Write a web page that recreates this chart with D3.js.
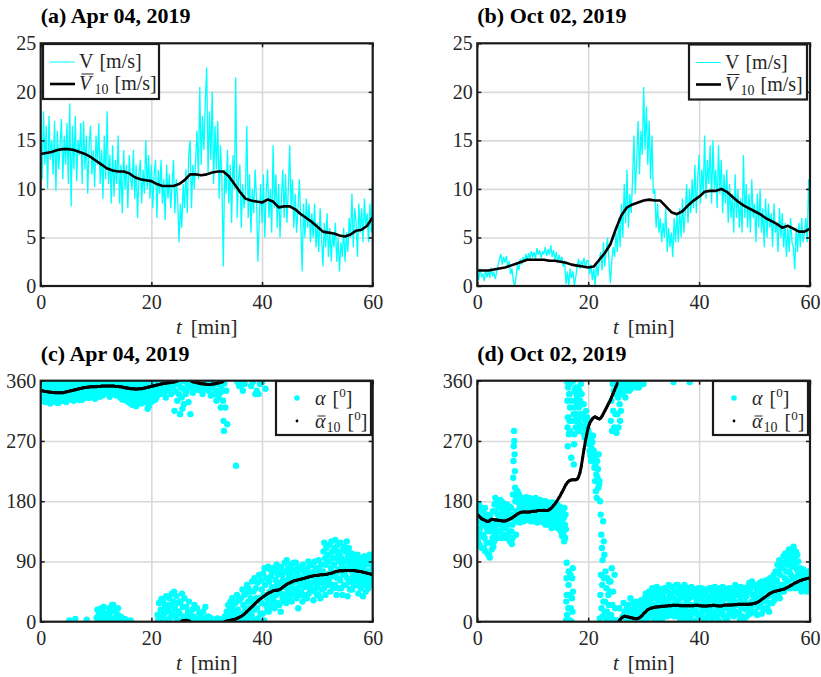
<!DOCTYPE html>
<html>
<head>
<meta charset="utf-8">
<script src="https://cdn.jsdelivr.net/npm/d3@7"></script>
<style>
body { margin: 0; background: #fff; }
svg text { font-family: "Liberation Serif", "Times New Roman", serif; fill: #262626; }
</style>
</head>
<body>
<div id="chart"></div>
<script>
"use strict";
//axis ticks
var timeTicks = [0, 20, 40, 60];
var speedTicks = [0, 5, 10, 15, 20, 25];
var dirTicks = [0, 90, 180, 270, 360];
var titles = ["(a) Apr 04, 2019", "(b) Oct 02, 2019", "(c) Apr 04, 2019", "(d) Oct 02, 2019"];

//raw wind speed [m/s], one reading every 0.25 min
var speedApr = [
  15.5, 11.0, 18.0, 12.5, 16.5, 10.0, 17.5, 13.0, 15.0, 11.5, 17.0, 9.8, 16.0, 12.0, 14.5, 17.2,
  11.0, 15.5, 12.5, 16.8, 10.5, 18.8, 8.2, 16.5, 12.0, 17.5, 10.8, 15.0, 13.5, 16.8, 10.5, 17.0,
  12.0, 15.5, 9.5, 14.5, 16.5, 11.5, 14.0, 10.2, 15.5, 12.5, 16.8, 10.5, 14.0, 9.0, 15.5, 11.0,
  18.0, 10.5, 13.5, 8.5, 14.5, 9.2, 13.0, 10.5, 15.5, 8.5, 12.5, 7.5, 14.0, 10.0, 12.5, 8.0,
  13.5, 11.0, 10.0, 14.0, 9.0, 12.5, 7.0, 11.5, 13.0, 8.5, 12.0, 9.5, 15.0, 10.0, 13.5, 9.0,
  12.5, 8.0, 11.5, 13.0, 7.0, 12.0, 9.5, 13.0, 8.5, 11.0, 6.8, 12.5, 9.0, 11.5, 8.0, 10.5,
  13.0, 7.5, 11.0, 9.0, 4.5, 8.5, 6.0, 10.5, 8.0, 12.0, 7.5, 13.5, 15.0, 8.0, 12.5, 10.0,
  13.0, 16.0, 11.0, 20.5, 12.5, 17.5, 14.0, 19.0, 22.5, 11.5, 18.0, 13.0, 20.0, 10.5, 16.5, 12.0,
  17.0, 9.0, 14.5, 11.0, 2.0, 12.0, 9.5, 14.0, 8.5, 12.5, 6.5, 13.5, 10.0, 21.5, 7.0, 11.0,
  12.5, 6.0, 10.5, 8.0, 9.5, 16.5, 7.0, 11.5, 5.5, 10.0, 7.5, 12.0, 9.0, 2.5, 7.0, 10.5,
  6.5, 11.5, 5.0, 9.5, 12.0, 7.0, 10.0, 5.5, 14.5, 8.0, 11.5, 6.0, 10.5, 5.0, 9.0, 12.0,
  7.0, 11.5, 6.5, 10.0, 14.5, 8.0, 11.0, 6.0, 9.5, 5.5, 8.0, 11.0, 6.5, 1.5, 8.5, 5.0,
  9.0, 6.0, 8.5, 4.5, 7.5, 5.0, 8.5, 4.0, 6.5, 3.5, 8.0, 5.0, 2.0, 6.5, 4.0, 7.5,
  3.0, 6.0, 2.5, 5.5, 4.0, 6.5, 2.5, 5.0, 1.5, 4.5, 3.0, 6.0, 2.5, 5.5, 3.5, 7.0,
  5.0, 9.5, 4.0, 8.0, 6.5, 3.0, 8.5, 5.5, 8.0, 4.5, 9.0, 6.0, 7.5, 4.5, 8.5, 5.5,
  11.5
];
var speedOct = [
  1.5, 0.6, 1.8, 1.0, 1.2, 0.5, 1.7, 0.9, 1.6, 0.8, 1.9, 1.1, 1.4, 0.7, 1.5, 2.2,
  2.8, 3.3, 2.2, 3.0, 2.4, 3.1, 1.9, 2.6, 1.2, 1.8, 0.5, 0.0, 1.0, 2.2, 1.6, 2.8,
  2.2, 3.0, 2.5, 3.3, 2.6, 3.4, 2.8, 3.6, 3.0, 3.5, 2.8, 3.9, 3.2, 3.7, 2.9, 3.5,
  3.3, 4.0, 3.1, 3.8, 3.2, 4.2, 3.0, 3.7, 2.7, 3.5, 2.4, 3.2, 2.5, 3.0, 2.0, 2.6,
  0.2, 1.5, 0.0, 1.8, 0.8, 1.5, 0.0, 0.9, 2.0, 2.8, 1.8, 2.5, 2.2, 2.9, 1.9, 2.6,
  2.6, 1.2, 2.2, 0.6, 1.8, 0.0, 2.5, 1.0, 2.5, 3.5, 1.6, 4.5, 2.0, 3.8, 5.0, 2.5,
  0.3, 2.5, 4.0, 3.0, 5.5, 3.5, 7.0, 4.0, 8.5, 5.0, 10.5, 6.5, 12.0, 6.0, 9.5, 7.5,
  11.0, 15.5, 9.5, 13.0, 17.0, 11.5, 16.0, 13.5, 20.5, 14.0, 18.5, 12.5, 17.0, 11.0, 15.5, 9.5,
  10.0, 6.0, 8.5, 5.5, 7.0, 4.5, 6.5, 5.0, 8.0, 3.5, 6.0, 4.0, 5.5, 3.0, 7.0, 4.5,
  7.5, 4.5, 8.0, 5.0, 9.0, 5.5, 7.5, 10.5, 6.5, 10.0, 7.5, 11.0, 8.0, 12.5, 7.5, 11.0,
  13.5, 8.5, 12.0, 9.5, 15.5, 9.0, 13.0, 10.5, 14.5, 8.5, 15.0, 10.0, 12.0, 8.0, 14.5, 9.5,
  13.0, 7.5, 11.5, 8.5, 12.0, 6.5, 10.5, 7.0, 9.5, 5.5, 11.5, 7.0, 10.0, 6.0, 9.0, 5.5,
  13.5, 7.0, 10.5, 6.0, 9.5, 5.5, 11.0, 7.0, 8.5, 4.5, 9.5, 6.0, 10.0, 5.5, 8.0, 4.0,
  9.0, 5.0, 8.5, 6.0, 7.5, 4.0, 8.5, 5.5, 6.5, 3.5, 8.0, 5.0, 7.5, 4.0, 6.5, 3.0,
  6.0, 3.5, 7.0, 4.5, 4.0, 1.7, 6.0, 3.5, 6.5, 4.0, 7.0, 4.5, 5.5, 7.0, 4.5, 11.0,
  6.5
];

//10-min moving mean of speed, one value per minute
var speedAprMean = [13.6, 13.7, 13.8, 14.0, 14.1, 14.1, 14.0, 13.8, 13.6, 13.3, 12.9, 12.5, 12.1, 11.9, 11.8, 11.8,
  11.6, 11.2, 11.0, 10.9, 10.8, 10.5, 10.3, 10.3, 10.3, 10.5, 10.9, 11.5, 11.5, 11.4, 11.5, 11.7,
  11.8, 11.8, 11.3, 10.5, 9.7, 9.0, 8.8, 8.7, 8.6, 8.9, 8.7, 8.1, 8.2, 8.2, 7.9, 7.4,
  7.0, 6.6, 6.1, 5.6, 5.5, 5.4, 5.2, 5.1, 5.3, 5.7, 5.8, 6.2, 7.1];
var speedOctMean = [1.6, 1.6, 1.6, 1.7, 1.8, 1.9, 2.1, 2.3, 2.5, 2.7, 2.7, 2.7, 2.7, 2.6, 2.6, 2.5,
  2.4, 2.2, 2.1, 2.0, 1.9, 2.0, 2.7, 3.4, 4.3, 5.9, 7.3, 8.1, 8.4, 8.6, 8.8, 8.9,
  8.8, 8.8, 8.2, 7.6, 7.4, 7.7, 8.3, 8.8, 9.2, 9.7, 9.8, 9.8, 10.0, 9.7, 9.2, 8.7,
  8.3, 8.0, 7.7, 7.4, 7.0, 6.7, 6.4, 6.0, 6.2, 5.9, 5.6, 5.6, 5.9];

//raw wind direction [deg], readings grouped by minute
var dirApr = [
  [352, 335, 358, 330, 347, 340, 356, 333, 349, 338, 355, 328, 344, 351],
  [345, 328, 355, 338, 350, 332, 357, 342, 336, 353, 326, 347, 340, 358],
  [336, 350, 329, 346, 338, 355, 331, 343, 352, 334, 357, 341, 348, 327],
  [348, 333, 352, 327, 345, 336, 356, 340, 330, 354, 343, 338, 358, 335],
  [330, 350, 338, 357, 334, 348, 342, 353, 328, 345, 355, 337, 351, 332],
  [355, 337, 2, 349, 332, 358, 341, 346, 335, 353, 339, 357, 344, 330],
  [338, 356, 344, 4, 333, 352, 340, 359, 347, 336, 354, 342, 350, 331],
  [350, 336, 358, 342, 354, 331, 347, 357, 339, 352, 344, 334, 356, 341],
  [343, 359, 337, 352, 3, 345, 356, 339, 349, 334, 354, 341, 358, 346],
  [357, 341, 353, 336, 359, 348, 344, 355, 338, 351, 346, 333, 356, 342],
  [340, 6, 358, 18, 345, 2, 352, 12, 349, 336, 8, 355, 343, 20],
  [359, 15, 338, 4, 350, 22, 355, 8, 344, 357, 12, 341, 353, 2],
  [344, 10, 357, 1, 348, 20, 336, 14, 352, 6, 341, 355, 25, 346],
  [353, 25, 341, 5, 359, 16, 346, 3, 350, 338, 12, 356, 343, 20],
  [338, 9, 355, 2, 347, 335, 358, 7, 344, 351, 332, 356, 4, 340],
  [350, 4, 332, 358, 3, 343, 354, 330, 346, 338, 356, 341, 352, 335],
  [327, 352, 340, 2, 358, 335, 346, 324, 355, 331, 349, 338, 357, 343],
  [348, 331, 357, 322, 353, 338, 344, 359, 328, 350, 335, 356, 341, 346],
  [336, 356, 326, 349, 340, 358, 330, 345, 353, 334, 357, 328, 347, 341],
  [352, 329, 343, 357, 318, 347, 338, 322, 355, 333, 349, 327, 358, 340],
  [344, 359, 335, 351, 330, 356, 341, 348, 338, 354, 332, 357, 346, 336],
  [357, 10, 345, 2, 359, 28, 352, 5, 340, 18, 355, 34, 348, 8],
  [348, 30, 358, 12, 342, 22, 355, 3, 335, 38, 350, 15, 345, 25],
  [359, 18, 346, 35, 353, 6, 357, 25, 340, 42, 350, 12, 355, 30],
  [352, 45, 315, 20, 358, 8, 344, 38, 2, 330, 28, 355, 15, 340],
  [357, 12, 310, 30, 350, 2, 335, 42, 318, 22, 348, 8, 325, 35],
  [359, 6, 340, 22, 345, 3, 352, 15, 328, 30, 355, 10],
  [310, 350, 2, 358, 18, 342, 8, 355, 25, 348, 4],
  [4, 352, 20, 358, 1, 346, 12, 357, 8, 350],
  [355, 5, 340, 15, 359, 2, 348, 22, 6, 352],
  [2, 356, 8, 345, 1, 358, 6, 338, 350, 3],
  [352, 3, 357, 340, 2, 359, 345, 330, 355, 5],
  [355, 335, 4, 358, 342, 320, 350, 2, 345, 330],
  [300, 285, 356, 8, 320, 3, 345, 15, 295, 5, 25, 10],
  [5, 22, 2, 30, 10, 1, 18, 35, 8, 25, 3, 15],
  [12, 2, 28, 233, 6, 40, 358, 18, 4, 32, 352, 10],
  [352, 3, 35, 357, 12, 48, 345, 25, 5, 40, 355, 18],
  [5, 42, 15, 55, 2, 30, 50, 20, 8, 45, 12, 35],
  [352, 10, 60, 28, 358, 45, 3, 65, 18, 340, 50, 35],
  [345, 20, 58, 5, 340, 70, 35, 355, 12, 62, 28, 48],
  [358, 12, 72, 40, 2, 80, 55, 348, 25, 65, 35, 18],
  [30, 82, 15, 60, 45, 78, 22, 68, 38, 52, 75, 28],
  [35, 80, 50, 20, 75, 62, 40, 85, 55, 28, 70, 45],
  [48, 25, 78, 58, 15, 82, 42, 70, 35, 62, 52, 30],
  [55, 88, 38, 75, 28, 92, 62, 45, 80, 50, 68, 35],
  [72, 40, 85, 55, 30, 78, 65, 48, 88, 60, 42, 75],
  [60, 88, 35, 72, 50, 82, 20, 68, 45, 78, 55, 40],
  [45, 78, 58, 30, 85, 65, 40, 75, 52, 70, 35, 62],
  [62, 35, 80, 55, 90, 42, 72, 50, 85, 45, 68, 58],
  [70, 48, 85, 32, 75, 58, 90, 45, 65, 80, 52, 40],
  [55, 80, 40, 92, 62, 75, 35, 68, 85, 48, 72, 58],
  [75, 105, 50, 118, 60, 95, 40, 85, 110, 65, 90, 55, 100, 70],
  [90, 60, 115, 72, 45, 100, 80, 120, 55, 105, 68, 95, 50, 85],
  [85, 110, 55, 122, 70, 95, 40, 105, 65, 115, 78, 100, 50, 90],
  [100, 62, 118, 75, 50, 95, 85, 40, 108, 70, 90, 55, 112, 80],
  [70, 105, 55, 90, 120, 65, 38, 98, 80, 110, 60, 92, 48, 85],
  [95, 60, 102, 75, 48, 88, 68, 100, 55, 92, 80, 62, 98, 72],
  [72, 90, 55, 100, 65, 42, 85, 78, 95, 60, 88, 50, 80, 68],
  [95, 60, 80, 38, 92, 70, 55, 98, 65, 85, 45, 75, 90, 58],
  [65, 88, 50, 95, 75, 60, 100, 70, 55, 85, 68, 92, 58, 80]
];
var dirOct = [
  [172, 120, 160, 135, 175, 115, 150, 140, 165, 128, 155, 110, 145, 170],
  [130, 165, 110, 150, 125, 170, 105, 145, 160, 118, 140, 155, 135, 100],
  [155, 100, 140, 96, 160, 118, 135, 150, 108, 145, 125, 165, 112, 138],
  [120, 175, 140, 185, 130, 165, 150, 180, 125, 160, 145, 172, 135, 155],
  [160, 135, 182, 150, 125, 170, 145, 178, 140, 165, 130, 175, 155, 148],
  [140, 170, 125, 160, 150, 175, 130, 165, 145, 155, 135, 172, 120, 158],
  [155, 120, 170, 135, 116, 160, 145, 125, 190, 215, 240, 262, 285, 270, 250, 225, 200, 180, 150, 130],
  [165, 185, 150, 195, 160, 178, 155, 190, 170, 148, 182, 162, 175, 158],
  [170, 155, 185, 160, 178, 150, 182, 165, 175, 158, 168, 186, 152, 172],
  [160, 180, 152, 175, 165, 185, 158, 172, 168, 150, 178, 162, 183, 155],
  [175, 155, 182, 165, 150, 178, 160, 185, 170, 158, 180, 148, 172, 163],
  [160, 178, 150, 170, 182, 155, 175, 165, 152, 180, 162, 172, 148, 168],
  [150, 172, 160, 180, 145, 168, 155, 175, 162, 148, 178, 158, 170, 152],
  [165, 145, 175, 150, 170, 140, 160, 178, 155, 168, 142, 172, 148, 162],
  [148, 170, 142, 165, 155, 175, 140, 160, 152, 168, 145, 172, 138, 158],
  [165, 135, 170, 150, 128, 160, 140, 168, 130, 155, 120, 170, 145, 125, 160, 138],
  [2, 30, 65, 88, 40, 10, 358, 330, 290, 262, 305, 350, 20, 55, 75, 280, 340, 355, 300, 340, 285, 320, 2, 40, 70, 20, 358, 300, 245, 330],
  [0, 35, 65, 15, 80, 45, 360, 310, 235, 265, 280, 345, 320, 300, 350, 290, 330, 310, 340, 305, 325],
  [335, 300, 350, 285, 320, 345, 295, 330, 310, 355, 290, 340, 305, 325],
  [310, 290, 325, 280, 305, 275, 300, 285, 315, 295, 270, 305, 288, 298],
  [285, 265, 280, 255, 272, 248, 265, 240, 275, 258, 268, 245, 278, 252],
  [255, 230, 245, 210, 235, 195, 220, 185, 240, 215, 228, 200, 250, 205],
  [210, 5, 180, 40, 160, 70, 130, 20, 110, 55, 92, 8, 150, 30, 120, 65, 100, 15],
  [30, 75, 5, 50, 15, 65, 2, 40, 25, 60, 10, 45],
  [60, 300, 10, 330, 80, 285, 25, 355, 45, 315, 3, 345, 290, 70, 340, 20, 310, 360],
  [340, 282, 358, 310, 2, 335, 290, 350, 20, 325, 300, 345, 315, 355],
  [355, 340, 8, 350, 28, 360, 15, 345, 335, 5, 352, 20],
  [352, 3, 358, 25, 345, 12, 355, 35, 348, 8, 360, 18],
  [10, 355, 28, 5, 358, 20, 2, 30, 15, 350, 8, 25],
  [15, 350, 3, 25, 358, 8, 32, 12, 20, 5, 28, 355],
  [20, 5, 35, 15, 42, 8, 28, 3, 38, 12, 25, 45],
  [30, 12, 45, 22, 8, 38, 50, 18, 35, 5, 42, 25],
  [25, 45, 10, 35, 52, 15, 40, 5, 30, 48, 20, 38],
  [38, 12, 48, 25, 5, 42, 20, 35, 50, 15, 30, 8],
  [15, 50, 28, 8, 45, 32, 55, 20, 38, 12, 42, 25],
  [40, 10, 52, 25, 358, 35, 8, 45, 18, 30, 55, 22],
  [30, 55, 12, 42, 20, 48, 5, 35, 25, 50, 15, 38],
  [18, 45, 8, 38, 55, 22, 3, 40, 30, 12, 48, 25],
  [50, 15, 35, 358, 5, 42, 25, 52, 12, 38, 20, 45],
  [12, 38, 48, 20, 2, 44, 30, 15, 40, 25, 50, 8],
  [35, 8, 42, 25, 50, 12, 38, 20, 45, 5, 30, 48],
  [45, 18, 30, 5, 40, 28, 48, 10, 35, 22, 50, 15],
  [22, 50, 12, 38, 4, 45, 30, 15, 42, 25, 52, 8],
  [40, 8, 32, 48, 18, 42, 2, 35, 25, 50, 12, 38],
  [15, 45, 28, 52, 10, 38, 22, 48, 5, 35, 42, 20],
  [35, 5, 42, 20, 50, 12, 40, 28, 48, 15, 32, 45],
  [50, 22, 38, 8, 45, 30, 55, 15, 40, 25, 52, 12],
  [25, 48, 12, 40, 3, 35, 52, 20, 45, 8, 30, 42],
  [42, 2, 30, 358, 50, 18, 38, 8, 45, 25, 52, 12],
  [58, 20, 45, 12, 52, 30, 60, 25, 40, 15, 55, 35],
  [40, 15, 55, 28, 48, 10, 35, 50, 22, 45, 30, 58],
  [25, 52, 38, 12, 60, 30, 45, 18, 55, 35, 48, 20],
  [55, 30, 62, 20, 48, 38, 58, 15, 42, 65, 28, 50],
  [45, 65, 28, 55, 40, 70, 32, 60, 50, 75, 38, 62],
  [60, 85, 40, 75, 50, 92, 35, 70, 80, 55, 88, 45],
  [80, 55, 98, 45, 88, 65, 102, 50, 75, 92, 60, 85],
  [95, 60, 108, 75, 50, 100, 70, 90, 82, 105, 65, 88],
  [112, 65, 95, 50, 85, 105, 58, 78, 100, 70, 90, 60],
  [70, 50, 80, 60, 75, 45, 72, 55, 65, 78, 52, 68],
  [65, 48, 72, 55, 68, 45, 70, 52, 60, 75, 50, 62]
];

//10-min mean direction, one value every 0.25 min (wrapped to 0..360)
var dirAprMean = [
  345, 345, 344.5, 344, 344, 343.5, 343, 343, 342.5, 342.5, 342, 342, 342, 342, 342, 342,
  342, 342.5, 343, 343.5, 344, 344.5, 345, 345.5, 346, 346.5, 347, 347.5, 348, 348.5, 349, 349.5,
  350, 350, 350.5, 350.5, 351, 351, 351, 351, 351, 351.5, 351.5, 351.5, 352, 352, 352, 352,
  352, 352, 352, 352, 352, 352, 351.5, 351.5, 351.5, 351, 351, 350.5, 350, 349.5, 349, 349,
  348.5, 348, 348, 348, 347.5, 347.5, 347.5, 348, 348, 348, 348.5, 349, 349.5, 350, 350.5, 351,
  351.5, 352, 352.5, 353, 353.5, 354, 354.5, 355, 355.5, 356, 356, 356.5, 357, 357, 357.5, 358,
  358, 358.5, 359, 359.5, 0.5, 359.8, 1, 1.5, 1.8, 2, 1.5, 1, 0.3, 359, 358.5, 358,
  357.5, 357, 356.5, 356, 355.5, 355.5, 355, 355, 354.5, 354.5, 354.5, 354.5, 355, 355, 355.5, 356,
  356.5, 357, 357.5, 358, 359, 0.3, 0.5, 1, 1.5, 2, 2.5, 3, 3.5, 4, 5, 6,
  7, 8, 9.5, 11, 13, 15, 17, 19, 21, 23, 25, 27, 29, 31, 33, 34.5,
  36, 37.5, 39, 40.5, 42, 43, 44, 45, 46, 46.5, 47, 47, 47.5, 48.5, 50, 51.5,
  53, 54.5, 56, 57, 58, 59, 60, 61, 61.5, 62, 62.5, 63, 63.5, 64, 64.5, 65,
  66, 66.5, 67, 67.5, 68, 68.5, 69, 69, 69.5, 69.5, 70, 70, 70, 70.5, 70.5, 71,
  71.5, 72, 72.5, 73, 74, 74.5, 75, 75.5, 76, 76, 76, 76, 76.5, 76.5, 76.5, 76.5,
  76.5, 76.5, 76.5, 76, 76, 75.5, 75.5, 75, 74.5, 74, 73.5, 73, 72.5, 72, 71.5, 71,
  71
];
var dirOctMean = [
  160, 158, 156, 154, 153, 152, 151, 150, 150, 151, 153, 153, 152.5, 152, 152, 151.5,
  151, 151, 150.5, 150.5, 150.5, 151, 152, 153, 154, 155, 156.5, 158, 159.5, 161, 162, 163,
  163.5, 164, 164, 164, 164, 164, 164, 164.5, 165, 165, 165, 165.5, 166, 166, 166, 166,
  166.5, 166, 166, 166.5, 167.5, 169, 171, 173.5, 176, 179, 182, 185.5, 189, 193, 197, 201,
  205, 208, 210, 211, 212, 212, 212, 212, 213, 216, 222, 232, 245, 258, 270, 280,
  290, 296, 300, 303, 305, 306, 305, 303.5, 303, 304, 307, 311, 315, 319, 323, 327,
  331, 336, 341, 346, 351, 356, 0.5, 3, 5.5, 7, 8, 8, 7.5, 7, 6.5, 6,
  5.5, 5, 4.5, 4.5, 5, 6, 7.5, 9.5, 12, 14, 16, 18, 19, 20, 20.5, 21,
  21.5, 22, 22, 22.5, 22.5, 23, 23, 23, 23.5, 23.5, 24, 24, 24, 24.5, 24.5, 24.5,
  24.5, 24.5, 24, 24, 24, 24, 24, 24, 24, 24, 24, 24, 24, 24.5, 24.5, 24.5,
  24, 24, 23.5, 23.5, 23.5, 23.5, 23.5, 24, 24, 24, 24.5, 24.5, 24, 24, 23.5, 23.5,
  23.5, 24, 24.5, 25, 25, 25, 25, 25, 25, 25.5, 25.5, 25.5, 26, 26, 26, 26,
  26, 26, 26, 26, 26, 26.5, 26.5, 27, 27.5, 28, 29, 30, 31.5, 33, 34.5, 36,
  37.5, 39, 40.5, 42, 43, 44, 45, 45.5, 46, 46.5, 47, 47.5, 48, 48.5, 49.5, 50.5,
  51.5, 52.5, 54, 55, 56.5, 57.5, 58.5, 59.5, 60.5, 61.5, 62, 63, 63.5, 64, 64.5, 65,
  65.5
];

var cyan = "#00ffff";
var w = 821,
  h = 677;

var svg = d3
  .select("#chart")
  .append("svg")
  .attr("width", w)
  .attr("height", h);

//plot boxes of the four panels
var boxes = [
  { x0: 40.7, x1: 372.7, y0: 286, y1: 43.3 },
  { x0: 477.3, x1: 810, y0: 286, y1: 43.3 },
  { x0: 40.7, x1: 372.7, y0: 621.7, y1: 380.7 },
  { x0: 477.3, x1: 810, y0: 621.7, y1: 380.7 }
];

//draws grid, ticks, labels and returns scales + data layer
function makePanel(i, yMax, yTicks) {
  var b = boxes[i];
  var x = d3.scaleLinear().domain([0, 60]).range([b.x0, b.x1]);
  var y = d3.scaleLinear().domain([0, yMax]).range([b.y0, b.y1]);
  var g = svg.append("g");

  //grid
  g.append("g")
    .attr("transform", "translate(0," + b.y0 + ")")
    .call(d3.axisBottom(x).tickValues(timeTicks.slice(1, -1)).tickSize(-(b.y0 - b.y1)).tickFormat(""));
  g.append("g")
    .attr("transform", "translate(" + b.x0 + ",0)")
    .call(d3.axisLeft(y).tickValues(yTicks.slice(1, -1)).tickSize(-(b.x1 - b.x0)).tickFormat(""));
  g.selectAll(".domain").remove();
  g.selectAll(".tick line").attr("stroke", "#d9d9d9").attr("stroke-width", 1.6);

  var clipId = "clip" + i;
  svg.append("clipPath")
    .attr("id", clipId)
    .append("rect")
    .attr("x", b.x0)
    .attr("y", b.y1)
    .attr("width", b.x1 - b.x0)
    .attr("height", b.y0 - b.y1);
  var data = svg.append("g").attr("clip-path", "url(#" + clipId + ")");

  var axes = svg.append("g");
  axes.append("g")
    .attr("transform", "translate(0," + b.y0 + ")")
    .call(d3.axisBottom(x).tickValues(timeTicks).tickSize(-4).tickPadding(9));
  axes.append("g")
    .attr("transform", "translate(0," + b.y1 + ")")
    .call(d3.axisTop(x).tickValues(timeTicks).tickSize(-4).tickFormat(""));
  axes.append("g")
    .attr("transform", "translate(" + b.x0 + ",0)")
    .call(d3.axisLeft(y).tickValues(yTicks).tickSize(-4).tickPadding(4.5));
  axes.append("g")
    .attr("transform", "translate(" + b.x1 + ",0)")
    .call(d3.axisRight(y).tickValues(yTicks).tickSize(-4).tickFormat(""));
  axes.selectAll(".domain").remove();
  axes.selectAll(".tick line").attr("stroke", "#1a1a1a").attr("stroke-width", 1.5);
  axes.selectAll("g").attr("font-family", null).attr("font-size", null);
  axes.selectAll(".tick text").attr("font-size", 20).attr("fill", "#262626");

  //frame
  axes.append("rect")
    .attr("x", b.x0)
    .attr("y", b.y1)
    .attr("width", b.x1 - b.x0)
    .attr("height", b.y0 - b.y1)
    .attr("fill", "none")
    .attr("stroke", "#1a1a1a")
    .attr("stroke-width", 2.2);

  //title
  svg.append("text")
    .attr("x", b.x0)
    .attr("y", b.y1 - 20)
    .attr("font-size", 22)
    .attr("font-weight", "bold")
    .style("fill", "#000")
    .text(titles[i]);

  //x label
  var xl = svg.append("text")
    .attr("x", (b.x0 + b.x1) / 2)
    .attr("y", b.y0 + 48)
    .attr("text-anchor", "middle")
    .attr("font-size", 21);
  xl.append("tspan").attr("font-style", "italic").text("t");
  xl.append("tspan").attr("dx", 9).text("[min]");

  return { x: x, y: y, data: data, legend: svg.append("g"), box: b };
}

//letter with a bar on top followed by subscript and unit
function barText(g, x0, yb, letter, barH, sub, unit, supUnit) {
  var base = g.append("text")
    .attr("x", x0)
    .attr("y", yb)
    .attr("font-size", 20)
    .attr("font-style", "italic")
    .text(letter);
  var bb = base.node().getBBox();
  g.append("line")
    .attr("x1", bb.x + 2.5)
    .attr("x2", bb.x + bb.width - 0.5)
    .attr("y1", yb - barH)
    .attr("y2", yb - barH)
    .attr("stroke", "#262626")
    .attr("stroke-width", 1);
  var t = g.append("text")
    .attr("x", bb.x + bb.width + 0.5)
    .attr("y", yb)
    .attr("font-size", 20);
  t.append("tspan").attr("font-size", 14).attr("dy", 4).text(sub);
  unitSpans(t, unit, supUnit, -4);
}

function unitSpans(t, unit, supUnit, dy0) {
  if (supUnit) {
    t.append("tspan").attr("dx", 7).attr("dy", dy0).text("[");
    t.append("tspan").attr("font-size", 13).attr("dy", -8).text("0");
    t.append("tspan").attr("dy", 8).text("]");
  } else {
    t.append("tspan").attr("dx", 6).attr("dy", dy0).text(unit);
  }
}

function legendBox(g, x, y, bw, bh) {
  g.append("rect")
    .attr("x", x)
    .attr("y", y)
    .attr("width", bw)
    .attr("height", bh)
    .attr("fill", "#fff")
    .attr("stroke", "#1a1a1a")
    .attr("stroke-width", 2.2);
}

//speed panels
function speedPanel(i, raw, mean, lx, ly, lw) {
  var p = makePanel(i, 25, speedTicks);
  var rawLine = d3.line()
    .x(function(d, k) { return p.x(k * 0.25); })
    .y(function(d) { return p.y(d); });
  var meanLine = d3.line()
    .x(function(d, k) { return p.x(k); })
    .y(function(d) { return p.y(d); });
  p.data.append("path")
    .attr("d", rawLine(raw))
    .attr("fill", "none")
    .attr("stroke", cyan)
    .attr("stroke-width", 1.3);
  p.data.append("path")
    .attr("d", meanLine(mean))
    .attr("fill", "none")
    .attr("stroke", "#000")
    .attr("stroke-width", 2.6)
    .attr("stroke-linejoin", "round");

  var g = p.legend;
  legendBox(g, lx, ly, lw, 55);
  g.append("line").attr("x1", lx + 7).attr("x2", lx + 32).attr("y1", ly + 18).attr("y2", ly + 18)
    .attr("stroke", cyan).attr("stroke-width", 1);
  g.append("line").attr("x1", lx + 7).attr("x2", lx + 32).attr("y1", ly + 40).attr("y2", ly + 40)
    .attr("stroke", "#000").attr("stroke-width", 2.6);
  var t1 = g.append("text").attr("x", lx + 36).attr("y", ly + 24).attr("font-size", 20);
  t1.append("tspan").text("V");
  unitSpans(t1, "[m/s]", false, 0);
  barText(g, lx + 36, ly + 46, "V", 16, "10", "[m/s]", false);
}

//direction panels
function dirPanel(i, bins, mean, lx, ly) {
  var p = makePanel(i, 360, dirTicks);
  var pts = bins.flatMap(function(bin, m) {
    return bin.map(function(v, j) {
      return { t: m + (j + 0.5) / bin.length, v: v };
    });
  });
  p.data.selectAll(".raw")
    .data(pts)
    .join("circle")
    .attr("class", "raw")
    .attr("cx", function(d) { return p.x(d.t); })
    .attr("cy", function(d) { return p.y(d.v); })
    .attr("r", 3.2)
    .attr("fill", cyan);

  //mean as chained dots, broken where it wraps through 0/360
  var steps = d3.pairs(mean.map(function(v, k) { return [k * 0.25, v]; }))
    .filter(function(s) { return Math.abs(s[0][1] - s[1][1]) < 90; });
  p.data.selectAll(".avg")
    .data(steps)
    .join("line")
    .attr("class", "avg")
    .attr("x1", function(s) { return p.x(s[0][0]); })
    .attr("y1", function(s) { return p.y(s[0][1]); })
    .attr("x2", function(s) { return p.x(s[1][0]); })
    .attr("y2", function(s) { return p.y(s[1][1]); })
    .attr("stroke", "#000")
    .attr("stroke-width", 3)
    .attr("stroke-linecap", "round");

  var g = p.legend;
  legendBox(g, lx, ly, 95, 54);
  g.append("circle").attr("cx", lx + 21).attr("cy", ly + 17).attr("r", 2.8).attr("fill", cyan);
  g.append("circle").attr("cx", lx + 21).attr("cy", ly + 40).attr("r", 1.4).attr("fill", "#000");
  var t1 = g.append("text").attr("x", lx + 39).attr("y", ly + 24).attr("font-size", 20);
  t1.append("tspan").attr("font-style", "italic").text("α");
  unitSpans(t1, "", true, 0);
  barText(g, lx + 39, ly + 47, "α", 12, "10", "", true);
}

speedPanel(0, speedApr, speedAprMean, 43, 44, 116);
speedPanel(1, speedOct, speedOctMean, 689, 44.5, 118);
dirPanel(2, dirApr, dirAprMean, 276, 381);
dirPanel(3, dirOct, dirOctMean, 713, 381);
</script>
</body>
</html>
